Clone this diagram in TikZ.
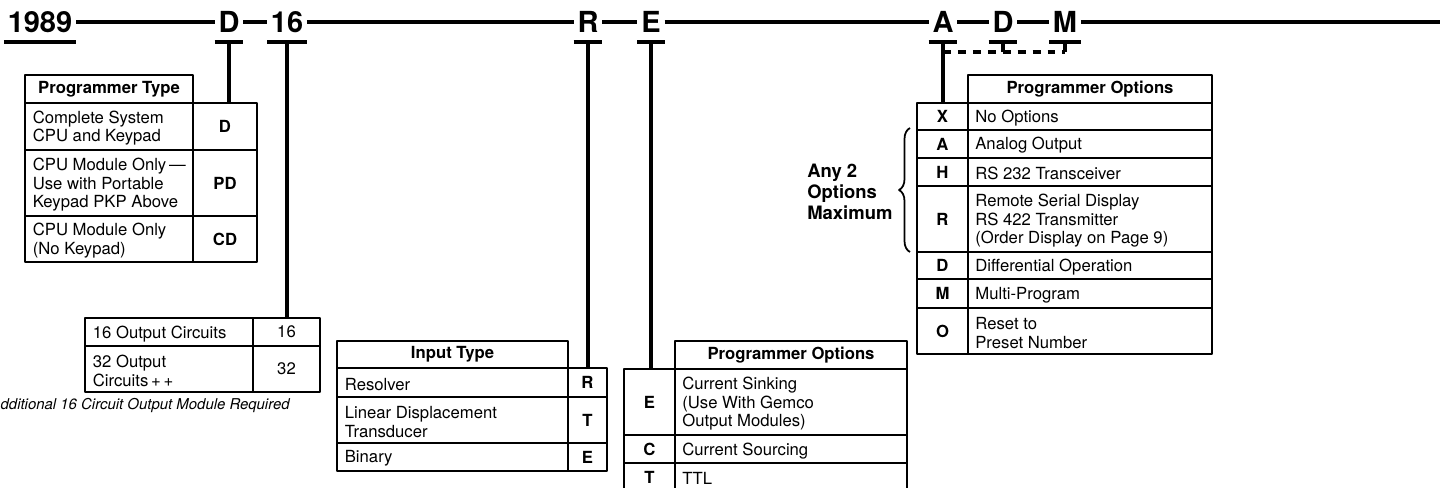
\documentclass[tikz,border=0pt]{standalone}
\usepackage{fontspec}
\setmainfont{TeX Gyre Heros}
\usetikzlibrary{positioning,fit,decorations.pathreplacing}

\newcommand\celltext{\fontsize{9.5}{10.8}\selectfont}

\tikzset{
  box/.style={draw,line width=0.7pt,inner sep=0pt,outer sep=0pt},
  codecell/.style={inner sep=0pt,font=\celltext\bfseries},
  head/.style={inner sep=0pt,font=\celltext\bfseries},
  txt/.style={inner sep=0pt,align=left,anchor=west,yshift=-0.9pt},
  key/.style={font=\fontsize{16.5}{18}\selectfont\bfseries,inner xsep=2pt,inner ysep=1pt},
  spine/.style={line width=2pt},
  bar/.style={line width=2.2pt},
  lead/.style={line width=2.2pt},
  optlead/.style={line width=2.2pt,dash pattern=on 4.5pt off 4pt}
}

% row: name, x1, xm, x2, y1, y2, description, code
\newcommand\dcrow[8]{%
  \node[box,fit={(#2,#5) (#3,#6)}] (#1d) {};
  \node[txt,right=0.15cm of #1d.west] (#1t) {#7};
  \node[box,fit={(#3,#5) (#4,#6)}] (#1) {};
  \node[codecell] (#1c) at (#1.center) {#8};
}
% row: name, x1, xm, x2, y1, y2, code, description
\newcommand\cdrow[8]{%
  \node[box,fit={(#2,#5) (#3,#6)}] (#1) {};
  \node[codecell] (#1c) at (#1.center) {#7};
  \node[box,fit={(#3,#5) (#4,#6)}] (#1d) {};
  \node[txt,right=0.14cm of #1d.west] (#1t) {#8};
}
% header: name, x1, y1, x2, y2, text
\newcommand\headcell[6]{%
  \node[box,fit={(#2,#3) (#4,#5)}] (#1) {};
  \node[head] (#1t) at (#1.center) {#6};
}

\begin{document}
\begin{tikzpicture}[x=0.02cm,y=-0.02cm,line join=round,font=\celltext]
\useasboundingbox (0,0) rectangle (1440,487);
\path (0,42) coordinate (barline)
      (0,52) coordinate (dashline)
      (1440,22) coordinate (spineEnd);

% model number
\node[key] (y1989) at (40,22) {1989};
\node[key] (kD) at (229,22) {D};
\node[key] (k16) at (287,22) {16};
\node[key] (kR) at (588,22) {R};
\node[key] (kE) at (651,22) {E};
\node[key] (kA) at (943,22) {A};
\node[key] (kD2) at (1003,22) {D};
\node[key] (kM) at (1065,22) {M};
\draw[spine] (y1989) -- (kD) -- (k16) -- (kR) -- (kE) -- (kA) -- (kD2) -- (kM) -- (spineEnd);
\foreach \k in {y1989,kD,k16,kR,kE,kA,kD2,kM}
  \draw[bar] (\k.west |- barline) -- (\k.east |- barline);

% programmer type
\headcell{ptHead}{25}{75}{193}{103}{Programmer Type}
\dcrow{ptD}{25}{193}{257}{103}{150}{Complete System\\CPU and Keypad}{D}
\dcrow{ptPD}{25}{193}{257}{150}{216}{CPU Module Only\,—\\Use with Portable\\Keypad PKP Above}{PD}
\dcrow{ptCD}{25}{193}{257}{216}{262}{CPU Module Only\\(No Keypad)}{CD}

% output circuits
\dcrow{oc16}{85}{253}{320}{318}{346}{16 Output Circuits}{\mdseries 16}
\dcrow{oc32}{85}{253}{320}{346}{392}{32 Output\\Circuits\,+\,+}{\mdseries 32}
\node[anchor=east,inner sep=0pt,font=\fontsize{8.5}{10}\selectfont\itshape] (note) at (290,406)
  {Additional 16 Circuit Output Module Required};

% input type
\headcell{inHead}{337}{341}{568}{368}{Input Type}
\dcrow{inR}{337}{568}{607}{368}{397}{Resolver}{R}
\dcrow{inT}{337}{568}{607}{397}{443}{Linear Displacement\\Transducer}{T}
\dcrow{inE}{337}{568}{607}{443}{471}{Binary}{E}

% output type
\headcell{ooHead}{675}{341}{907}{369}{Programmer Options}
\cdrow{ooE}{624}{675}{907}{369}{435}{E}{Current Sinking\\(Use With Gemco\\Output Modules)}
\cdrow{ooC}{624}{675}{907}{435}{463}{C}{Current Sourcing}
\cdrow{ooT}{624}{675}{907}{463}{491}{T}{TTL}

% options
\headcell{poHead}{968}{75}{1212}{103}{Programmer Options}
\cdrow{poX}{917}{968}{1212}{103}{130}{X}{No Options}
\cdrow{poA}{917}{968}{1212}{130}{158}{A}{Analog Output}
\cdrow{poH}{917}{968}{1212}{158}{186}{H}{RS 232 Transceiver}
\cdrow{poR}{917}{968}{1212}{186}{252}{R}{Remote Serial Display\\RS 422 Transmitter\\(Order Display on Page 9)}
\cdrow{poD}{917}{968}{1212}{252}{279}{D}{Differential Operation}
\cdrow{poM}{917}{968}{1212}{279}{308}{M}{Multi-Program}
\cdrow{poO}{917}{968}{1212}{308}{354}{O}{Reset to\\Preset Number}
\draw[decorate,decoration={brace,amplitude=0.22cm},line width=1pt] (910,252) -- (910,128);
\node[txt,font=\fontsize{10.5}{12}\selectfont\bfseries] (anyTwo) at (807,190) {Any 2\\Options\\Maximum};

% leads
\draw[lead] (kD |- barline) -- (kD |- ptD.north);
\draw[lead] (k16 |- barline) -- (k16 |- oc16.north);
\draw[lead] (kR |- barline) -- (kR |- inR.north);
\draw[lead] (kE |- barline) -- (kE |- ooE.north);
\draw[lead] (kA |- barline) -- (kA |- poX.north);
\draw[lead] (kD2 |- barline) -- (kD2 |- dashline);
\draw[lead] (kM |- barline) -- (kM |- dashline);
\draw[optlead] (kA |- dashline) -- (kM |- dashline);
\end{tikzpicture}
\end{document}
